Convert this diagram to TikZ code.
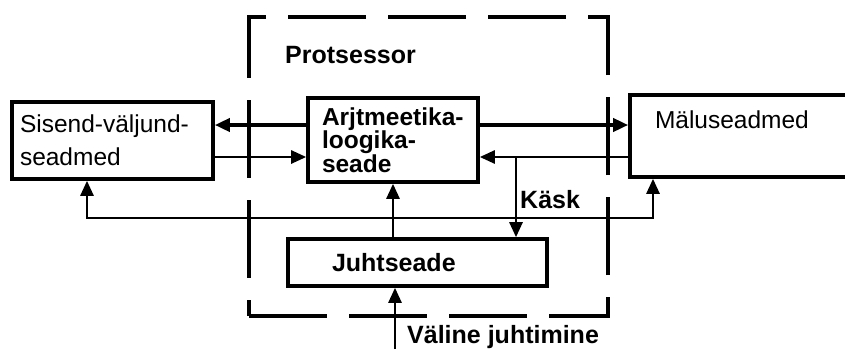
\documentclass[tikz,border=0pt]{standalone}
\usepackage{fontspec}
\setmainfont{Liberation Sans}
\usetikzlibrary{arrows.meta, positioning, calc}

\begin{document}
\begin{tikzpicture}[
    x=1pt, y=-1pt,
    every node/.style = {font=\fontsize{24.5}{33}\selectfont},
    unit/.style = {
        draw,
        line width=3.6pt,
        align=left,
        inner ysep=0pt
    },
    tag/.style = {
        font=\fontsize{25}{25}\selectfont\bfseries,
        anchor=west,
        inner sep=0pt
    },
    arr/.style = {
        -{Triangle[length=15pt,width=13pt]},
        line width=3.6pt
    },
    thinarr/.style = {
        -{Triangle[length=15pt,width=13pt]},
        line width=2.6pt
    }
]

\clip (0,0) rectangle (845,349);

%% Processor frame
\node[draw, line width=4pt, dash pattern=on 78pt off 22pt,
      minimum width=359pt, minimum height=299pt, inner sep=0pt]
    (cpu) at (428.5,166.5) {};
\node[tag] (cpuname) at (285,55) {Protsessor};

%% Units
\node[unit, minimum height=77pt, text width=185pt, inner xsep=8pt]
    (sisend) at (112.5,140.5) {Sisend-väljund-\\seadmed};
\node[unit, font=\fontsize{24.5}{23.5}\selectfont\bfseries,
      minimum height=84pt, text width=142pt, inner xsep=14pt]
    (alu) at (393,140) {Arjtmeetika-\\loogika-\\seade};
\node[unit, minimum height=82pt, text width=190pt, inner xsep=25pt]
    (mem) at (750,136) {Mäluseadmed\\[0pt]~};
\node[unit, font=\fontsize{25}{25}\selectfont\bfseries,
      minimum height=47pt, text width=171pt, inner xsep=44pt]
    (juht) at (417.5,262.5) {Juhtseade};

%% Labels
\node[tag] (kasklbl) at (520,200) {Käsk};
\node[tag] (valine)  at (407,337) {Väline juhtimine};

%% Helper coordinates
\coordinate (upper) at (0,125);
\coordinate (lower) at (0,157);
\coordinate (kask)  at (516,157);
\coordinate (busl)  at (87,218);
\coordinate (busr)  at (653,218);
\coordinate (ext)   at (395,349);

%% Arrows
\draw[arr]     (alu.west |- upper)  -- (sisend.east |- upper);
\draw[thinarr] (sisend.east |- lower) -- (alu.west |- lower);
\draw[arr]     (alu.east |- upper)  -- (mem.west |- upper);
\draw[thinarr] (mem.west |- lower)  -- (alu.east |- lower);
\draw[thinarr] (kask) -- (kask |- juht.north);
\draw[thinarr] (juht.north -| alu.south) -- (alu.south);
\draw[thinarr, {Triangle[length=15pt,width=13pt]}-{Triangle[length=15pt,width=13pt]}]
    (sisend.south -| busl) -- (busl) -- (busr) -- (mem.south -| busr);
\draw[thinarr] (ext) -- (ext |- juht.south);

\end{tikzpicture}
\end{document}
